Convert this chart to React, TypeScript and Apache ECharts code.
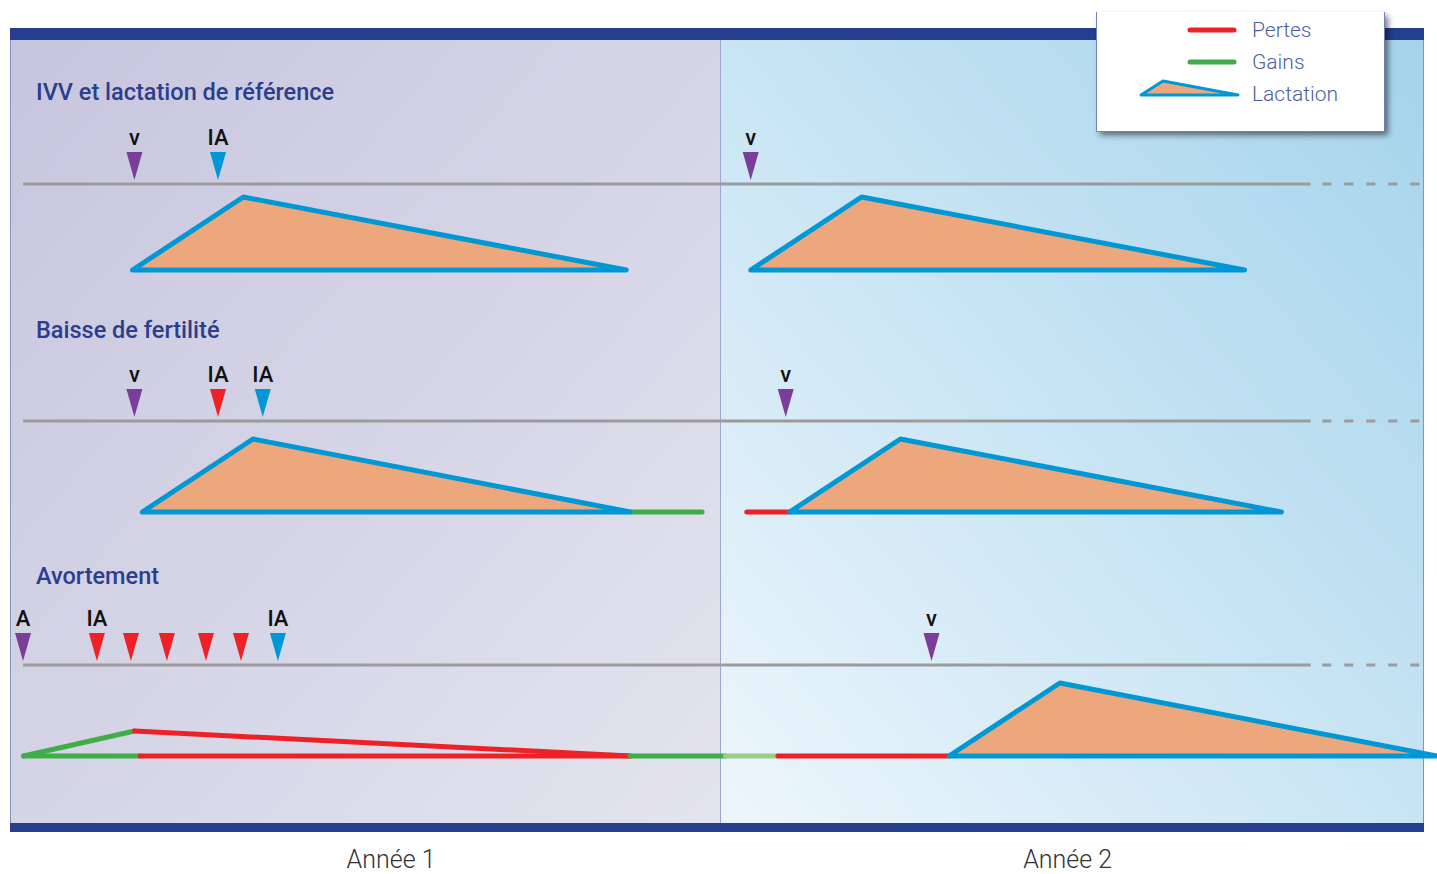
import React, { useEffect, useRef } from "react";
import * as echarts from "echarts";

// ---- Data (x in days from start of year 1, y in arbitrary yield units) ----
const rowTitles = ["IVV et lactation de référence", "Baisse de fertilité", "Avortement"];
const rowTimeline = [648, 411, 167]; // level of each row's time line
const rowBase = [562, 320, 76]; // base level of each row's lactation
const lactPeak = 73; // lactation peak height above base
const timelineStart = 6.7;
const timelineSolidEnd = 669;
const timelineDashStart = 675;
const timelineDashEnd = 725;

// lactations: [row, startDay, peakDay, endDay]
const lactations = [
  [0, 63, 120, 317],
  [0, 381, 438, 635],
  [1, 68, 125, 319],
  [1, 401, 458, 654],
  [2, 483, 540, 734],
];

// segments: [kind, x0, y0, x1, y1]  kind: loss | gain | gainLight
const segments: [string, number, number, number, number][] = [
  ["gain", 319, 320, 356, 320],
  ["loss", 379, 320, 401, 320],
  ["gain", 7, 76, 67, 76],
  ["loss", 67, 76, 319, 76],
  ["gain", 7, 76, 64, 101],
  ["loss", 64, 101, 319, 76],
  ["gain", 319, 76, 368, 76],
  ["gainLight", 368, 76, 395, 76],
  ["loss", 395, 76, 483, 76],
];

// markers: [row, day, kind, label]  kind: v (purple), ia (blue), fail (red)
const markers: [number, number, string, string][] = [
  [0, 64, "v", "v"],
  [0, 107, "ia", "IA"],
  [0, 381, "v", "v"],
  [1, 64, "v", "v"],
  [1, 107, "fail", "IA"],
  [1, 130, "ia", "IA"],
  [1, 399, "v", "v"],
  [2, 6.7, "v", "A"],
  [2, 44.7, "fail", "IA"],
  [2, 62.2, "fail", ""],
  [2, 80.7, "fail", ""],
  [2, 100.8, "fail", ""],
  [2, 118.8, "fail", ""],
  [2, 137.8, "ia", "IA"],
  [2, 474, "v", "v"],
];

const yearLabels = ["Année 1", "Année 2"];
const yearLabelDays = [196, 544];
const legendItems = ["Pertes", "Gains", "Lactation"];

// ---- Styles ----
const C = {
  purple: "#7b3e98",
  blue: "#0097d5",
  red: "#ee2127",
  green: "#3fae49",
  greenLight: "#9ccb8a",
  orange: "#eca87c",
  grey: "#9b9b9b",
  navy: "#253e8e",
  title: "#2b3e8e",
  legendText: "#4a5fa5",
};
const segColor: Record<string, string> = { loss: C.red, gain: C.green, gainLight: C.greenLight };
const markColor: Record<string, string> = { v: C.purple, ia: C.blue, fail: C.red };
const FONT = "Roboto, 'Noto Sans', sans-serif";

export default function App() {
  const ref = useRef<HTMLDivElement>(null);
  useEffect(() => {
    if (!ref.current) return;
    const chart = echarts.init(ref.current, null, { renderer: "svg" });

    const series: any[] = [];

    // timelines
    rowTimeline.forEach((y) => {
      series.push({
        type: "line",
        data: [[timelineStart, y], [timelineSolidEnd, y]],
        symbol: "none",
        silent: true,
        lineStyle: { color: C.grey, width: 3 },
        z: 2,
      });
      series.push({
        type: "line",
        data: [[timelineDashStart, y], [timelineDashEnd, y]],
        symbol: "none",
        silent: true,
        lineStyle: { color: C.grey, width: 3, type: [9, 13] },
        z: 2,
      });
    });

    // loss / gain segments
    segments.forEach(([kind, x0, y0, x1, y1]) => {
      series.push({
        type: "line",
        data: [[x0, y0], [x1, y1]],
        symbol: "none",
        silent: true,
        clip: false,
        lineStyle: { color: segColor[kind], width: 5, cap: "round" },
        z: 3,
      });
    });

    // lactation triangles
    series.push({
      type: "custom",
      clip: false,
      silent: true,
      z: 4,
      data: lactations.map(([row, s, p, e]) => [s, p, e, rowBase[row], rowBase[row] + lactPeak]),
      renderItem: (_params: any, api: any) => {
        const a = api.coord([api.value(0), api.value(3)]);
        const b = api.coord([api.value(1), api.value(4)]);
        const c = api.coord([api.value(2), api.value(3)]);
        return {
          type: "polygon",
          shape: { points: [a, b, c] },
          style: { fill: C.orange, stroke: C.blue, lineWidth: 5, lineJoin: "round" },
        };
      },
    });

    // markers
    series.push({
      type: "scatter",
      silent: true,
      clip: false,
      z: 5,
      symbol: "path://M0,0L16,0L8,28Z",
      symbolSize: [16, 28],
      symbolOffset: [0, -18],
      itemStyle: { opacity: 1 },
      data: markers.map(([row, day, kind, label]) => ({
        value: [day, rowTimeline[row]],
        itemStyle: { color: markColor[kind], opacity: 1 },
        label: {
          show: label !== "",
          formatter: label,
          position: "top",
          distance: 4,
          color: "#111",
          fontSize: 22,
          fontWeight: 500,
          fontFamily: FONT,
        },
      })),
    });

    const graphic: any[] = [
      // panels
      {
        type: "rect",
        z: -10,
        shape: { x: 10, y: 28, width: 710, height: 804 },
        style: {
          fill: new echarts.graphic.LinearGradient(0, 0, 1, 1, [
            { offset: 0, color: "#c7c5de" },
            { offset: 1, color: "#e4e4ef" },
          ]),
        },
      },
      {
        type: "rect",
        z: -10,
        shape: { x: 720, y: 28, width: 704, height: 804 },
        style: {
          fill: new echarts.graphic.LinearGradient(1, 0, 0, 1, [
            { offset: 0, color: "#a3d3eb" },
            { offset: 1, color: "#eef6fc" },
          ]),
        },
      },
      // bands
      { type: "rect", z: -9, shape: { x: 10, y: 28, width: 1414, height: 12 }, style: { fill: C.navy } },
      { type: "rect", z: -9, shape: { x: 10, y: 823, width: 1414, height: 9 }, style: { fill: C.navy } },
      // borders and divider
      { type: "line", z: -9, shape: { x1: 10.5, y1: 40, x2: 10.5, y2: 823 }, style: { stroke: "#8a93c8", lineWidth: 1 } },
      { type: "line", z: -9, shape: { x1: 1423.5, y1: 40, x2: 1423.5, y2: 823 }, style: { stroke: "#7d95cc", lineWidth: 1 } },
      { type: "line", z: -9, shape: { x1: 720.5, y1: 40, x2: 720.5, y2: 823 }, style: { stroke: "#a0a6d2", lineWidth: 1 } },
    ];

    // row titles
    const titleY = [92, 330, 576];
    rowTitles.forEach((t, i) => {
      graphic.push({
        type: "text",
        z: 10,
        x: 36,
        y: titleY[i],
        style: {
          text: t,
          fill: C.title,
          fontSize: 23.5,
          fontWeight: 500,
          fontFamily: FONT,
          verticalAlign: "middle",
        },
      });
    });

    // legend box (top edge runs out of the picture, so no top border)
    graphic.push({
      type: "rect",
      z: 20,
      shape: { x: 1096, y: 12, width: 288, height: 119 },
      style: {
        fill: "#ffffff",
        shadowBlur: 6,
        shadowOffsetX: 4,
        shadowOffsetY: 4,
        shadowColor: "rgba(0,0,0,0.55)",
      },
    });
    graphic.push({
      type: "polyline",
      z: 21,
      shape: { points: [[1096.5, 12], [1096.5, 131.5], [1384.5, 131.5], [1384.5, 12]] },
      style: { stroke: "#7080b8", lineWidth: 1, fill: null },
    });
    graphic.push({ type: "line", z: 21, shape: { x1: 1190, y1: 30, x2: 1234, y2: 30 }, style: { stroke: C.red, lineWidth: 5, lineCap: "round" } });
    graphic.push({ type: "line", z: 21, shape: { x1: 1190, y1: 62, x2: 1234, y2: 62 }, style: { stroke: C.green, lineWidth: 5, lineCap: "round" } });
    graphic.push({
      type: "polygon",
      z: 21,
      shape: { points: [[1141, 95], [1163, 81], [1238, 95]] },
      style: { fill: C.orange, stroke: C.blue, lineWidth: 3, lineJoin: "round" },
    });
    legendItems.forEach((t, i) => {
      graphic.push({
        type: "text",
        z: 22,
        x: 1252,
        y: 30 + i * 32,
        style: {
          text: t,
          fill: C.legendText,
          fontSize: 21,
          fontWeight: 300,
          fontFamily: FONT,
          verticalAlign: "middle",
        },
      });
    });

    chart.setOption({
      animation: false,
      grid: { left: 10, top: 28, width: 1428, height: 804, containLabel: false },
      xAxis: { type: "value", min: 0, max: 734, show: false },
      yAxis: { type: "value", min: 0, max: 804, show: false },
      graphic,
      series,
    });

    // year labels under the frame, placed through the x scale
    const yearGraphics = yearLabels.map((t, i) => {
      const px = chart.convertToPixel({ gridIndex: 0 }, [yearLabelDays[i], 0]) as number[];
      return {
        type: "text",
        z: 10,
        x: px[0],
        y: 859,
        style: {
          text: t,
          fill: "#333",
          fontSize: 25,
          fontWeight: 300,
          fontFamily: FONT,
          align: "center",
          verticalAlign: "middle",
        },
      };
    });
    chart.setOption({ graphic: [...graphic, ...yearGraphics] });

    return () => chart.dispose();
  }, []);
  return <div ref={ref} style={{ width: 1437, height: 874, position: "absolute", left: 0, top: 0 }} />;
}
